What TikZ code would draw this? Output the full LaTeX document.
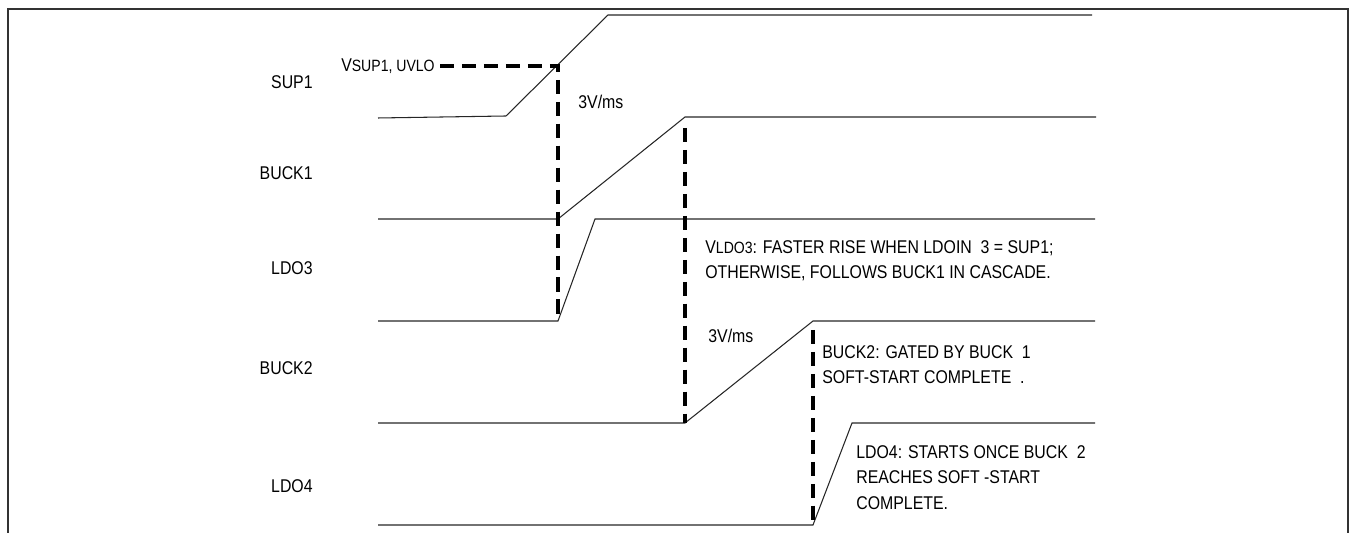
\documentclass[tikz,border=0pt]{standalone}
\usepackage{fontspec}
\setmainfont{Liberation Sans}[FakeStretch=0.86]
\usepackage{tikz}

\newcommand{\subtxt}[1]{{\fontsize{9.3}{10}\selectfont #1}}

\begin{document}
\begin{tikzpicture}[
  sig/.style={line width=0.6pt, black!85},
  gate/.style={line width=2.1pt, dash pattern=on 8pt off 4.5pt},
  frame/.style={line width=0.9pt, black!80},
  lbl/.style={anchor=east, inner sep=0pt, font=\fontsize{10.5}{12}\selectfont},
  rate/.style={anchor=west, inner sep=0pt, font=\fontsize{10.5}{12}\selectfont},
  note/.style={anchor=north west, inner sep=0pt, align=left,
               font=\fontsize{10.5}{14.5}\selectfont},
]
\useasboundingbox (0,0) rectangle (27.02,10.66);

% Frame (open at the bottom)
\draw[frame] (0.16,0) -- (0.16,10.48) -- (26.96,10.48) -- (26.96,0);

% Signal names
\node[lbl] (sup1)  at (6.26,9.02) {SUP1};
\node[lbl] (buck1) at (6.26,7.20) {BUCK1};
\node[lbl] (ldo3)  at (6.26,5.30) {LDO3};
\node[lbl] (buck2) at (6.26,3.30) {BUCK2};
\node[lbl] (ldo4)  at (6.26,0.94) {LDO4};

% Waveforms
\draw[sig] (7.56,8.30) -- (10.12,8.34) -- (12.16,10.36) -- (21.84,10.36);
\draw[sig] (7.56,6.28) -- (11.16,6.28) -- (13.70,8.32) -- (21.92,8.32);
\draw[sig] (7.56,4.24) -- (11.16,4.24) -- (11.90,6.28) -- (21.90,6.28);
\draw[sig] (7.56,2.20) -- (13.70,2.20) -- (16.26,4.24) -- (21.90,4.24);
\draw[sig] (7.56,0.16) -- (16.26,0.16) -- (17.04,2.20) -- (21.90,2.20);

% UVLO threshold and start-up gates
\node[lbl] (uvlo) at (8.70,9.34) {V\subtxt{SUP1, UVLO}};
\draw[gate] ([xshift=0.1cm]uvlo.east) -- (11.16,9.34) -- (11.16,4.24);
\draw[gate] (13.70,8.10) -- (13.70,2.20);
\draw[gate] (16.26,4.06) -- (16.26,0.16);

% Ramp rates
\node[rate] (rate1) at (11.56,8.62) {3V/ms};
\node[rate] (rate2) at (14.16,3.94) {3V/ms};

% Notes
\node[note] (n_ldo3) at (14.10,5.86)
  {V\subtxt{LDO3}: FASTER RISE WHEN LDOIN\ \ 3 = SUP1;\\
   OTHERWISE, FOLLOWS BUCK1 IN CASCADE.};
\node[note] (n_buck2) at (16.44,3.76)
  {BUCK2: GATED BY BUCK\ \ 1\\
   SOFT-START COMPLETE\ \ .};
\node[note] (n_ldo4) at (17.12,1.76)
  {LDO4: STARTS ONCE BUCK\ \ 2\\
   REACHES SOFT -START\\
   COMPLETE.};
\end{tikzpicture}
\end{document}
